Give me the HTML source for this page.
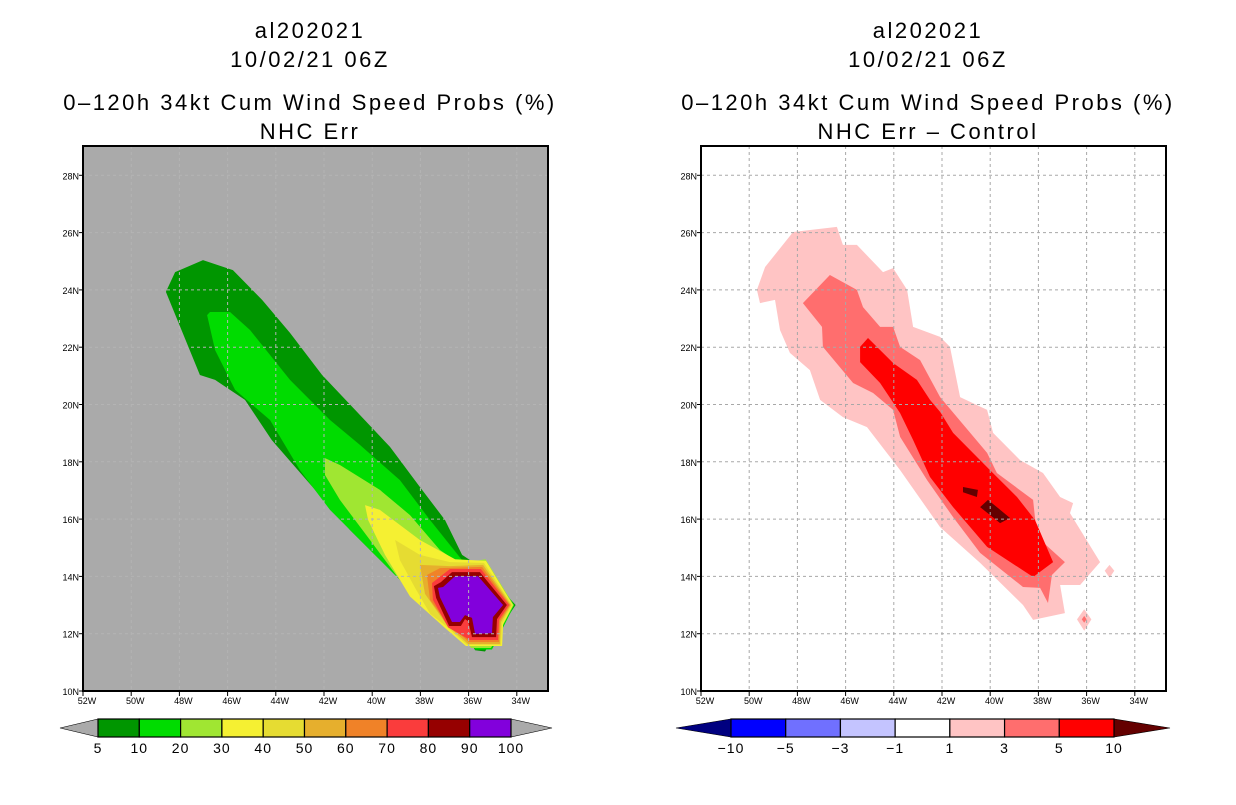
<!DOCTYPE html>
<html><head><meta charset="utf-8">
<style>
html,body{margin:0;padding:0;background:#fff;}
svg text{font-family:"Liberation Sans",sans-serif;fill:#000;}
</style></head>
<body>
<svg id="svg" width="1236" height="800" viewBox="0 0 1236 800" xmlns="http://www.w3.org/2000/svg">
<g font-size="22" letter-spacing="2.5" text-anchor="middle">
<text x="310" y="38">al202021</text>
<text x="310" y="67">10/02/21 06Z</text>
<text x="310" y="110">0–120h 34kt Cum Wind Speed Probs (%)</text>
<text x="310" y="139">NHC Err</text>
</g>
<g font-size="22" letter-spacing="2.5" text-anchor="middle">
<text x="928" y="38">al202021</text>
<text x="928" y="67">10/02/21 06Z</text>
<text x="928" y="110">0–120h 34kt Cum Wind Speed Probs (%)</text>
<text x="928" y="139">NHC Err – Control</text>
</g>
<g id="left"></g>
<g id="right"></g>
<g id="cbl"></g>
<g id="cbr"></g>
</svg>
<script>
// ---- data ----
const lonTicks = [52,50,48,46,44,42,40,38,36,34];
const latTicks = [10,12,14,16,18,20,22,24,26,28];
const leftLevels = [5,10,20,30,40,50,60,70,80,90,100];
const leftColors = ["#009600","#00dc00","#a0e632","#f5f032","#e6dc32","#e6af2d","#f08228","#fa3c3c","#960000","#8200dc"];
const rightLevels = [-10,-5,-3,-1,1,3,5,10];
const rightColors = ["#0000ff","#7070ff","#c4c4ff","#ffffff","#ffc4c4","#ff6e6e","#ff0000"];
const L5=[[48.56,23.93],[48.18,24.62],[47.02,25.04],[45.78,24.69],[44.57,23.65],[43.41,22.5],[42.08,21.03],[40.71,19.81],[39.26,18.52],[38.02,17.12],[36.98,15.97],[36.27,14.75],[35.44,14.29],[34.05,13.0],[35.32,11.38],[35.73,11.42],[36.36,12.41],[37.19,12.65],[38.02,13.18],[39.47,14.4],[40.92,15.62],[42.37,17.02],[44.17,18.76],[45.28,20.16],[46.52,20.86],[47.15,21.03]];
const L10=[[46.73,23.23],[45.9,23.23],[45.07,22.6],[43.41,20.86],[41.75,19.46],[40.51,18.59],[38.85,17.36],[37.6,15.97],[36.27,14.57],[35.11,14.22],[34.1,13.0],[35.03,11.45],[35.73,11.45],[36.15,12.3],[37.19,12.58],[38.43,13.53],[40.09,14.92],[41.75,16.32],[43.0,17.71],[44.24,19.46],[45.69,20.51],[46.52,21.9],[46.85,23.12]];
const L20=[[41.96,18.13],[41.34,17.89],[39.68,17.02],[38.43,16.14],[37.19,14.92],[36.36,14.45],[35.3,14.6],[34.13,13.0],[35.07,11.5],[35.9,11.5],[36.27,12.0],[37.19,12.6],[38.85,13.87],[40.09,15.27],[41.34,16.67],[41.96,17.54]];
const L30=[[40.3,16.49],[39.68,16.32],[38.02,15.27],[36.56,14.6],[35.28,14.54],[34.16,13.0],[34.57,12.34],[34.61,11.57],[36.11,11.57],[36.98,12.2],[38.43,13.3],[39.47,14.75],[40.17,15.97]];
const L40=[[39.05,15.27],[38.02,14.75],[36.77,14.5],[35.36,14.47],[34.2,13.0],[34.61,12.37],[34.66,11.61],[36.07,11.61],[36.94,12.27],[37.6,12.7],[38.22,13.6],[38.85,14.57]];
const L50=[[38.02,14.4],[36.77,14.36],[35.4,14.4],[34.24,13.0],[34.66,12.41],[34.7,11.64],[36.02,11.64],[36.9,12.3],[37.81,13.39]];
const L60=[[37.73,14.05],[37.19,14.29],[35.44,14.33],[34.28,13.0],[34.7,12.44],[34.74,11.71],[35.98,11.71],[36.85,12.32],[37.6,13.18]];
const L70=[[37.52,13.77],[36.77,14.26],[35.49,14.26],[34.32,13.0],[34.74,12.48],[34.78,11.78],[35.94,11.78],[36.85,12.22],[37.48,13.18]];
const L80=[[37.44,13.66],[37.15,13.8],[36.69,14.15],[35.53,14.15],[34.41,13.0],[34.82,12.51],[34.86,11.88],[35.86,11.88],[36.02,12.44],[36.15,12.51],[36.32,12.27],[36.81,12.27],[37.35,13.25]];
const L90=[[37.27,13.6],[37.06,13.63],[36.56,14.01],[35.61,14.01],[34.57,13.0],[34.99,12.58],[35.03,12.02],[35.73,11.99],[35.86,12.55],[36.15,12.65],[36.36,12.41],[36.69,12.41],[37.19,13.28]];
const R1=[[49.68,24.0],[49.34,24.8],[48.18,26.02],[46.36,26.2],[46.11,25.57],[45.53,25.57],[44.45,24.62],[44.03,24.76],[43.45,24.0],[43.2,22.71],[42.08,22.36],[41.67,22.01],[41.25,20.26],[40.13,19.81],[39.88,19.01],[38.76,18.06],[37.81,17.61],[37.1,16.77],[36.56,16.56],[36.69,16.21],[35.44,14.5],[36.27,13.7],[37.1,13.7],[36.9,12.72],[38.22,12.48],[38.64,13.0],[40.42,14.47],[42.08,15.72],[43.74,17.71],[45.11,19.21],[46.11,19.56],[47.06,20.16],[47.48,21.2],[48.31,21.8],[48.72,22.6],[48.93,23.65],[49.55,23.54]];
const R3=[[47.77,23.54],[46.65,24.52],[45.53,24.0],[45.28,23.4],[44.57,22.71],[44.03,22.71],[43.74,22.01],[42.91,21.55],[42.08,20.26],[40.13,18.31],[39.72,17.61],[38.22,16.67],[38.06,15.38],[36.9,14.5],[37.44,14.05],[37.6,13.07],[37.93,13.6],[38.64,13.63],[40.42,14.82],[41.54,16.07],[42.62,17.36],[43.74,18.87],[44.03,19.81],[44.86,20.4],[45.69,20.75],[46.94,22.01],[46.98,22.71]];
const R5=[[45.4,22.01],[45.07,22.32],[44.03,21.45],[43.04,20.86],[42.5,20.16],[42.08,19.74],[41.54,19.01],[40.01,17.71],[38.89,16.77],[38.14,15.97],[37.39,14.5],[38.22,13.98],[40.13,15.03],[41.54,16.42],[42.5,17.47],[43.2,18.76],[43.74,19.7],[44.57,20.75],[45.4,21.48]];
const R10a=[[41.13,17.12],[40.51,17.02],[40.55,16.77],[41.13,16.94]];
const R10b=[[40.09,16.67],[39.72,16.42],[39.18,16.04],[39.59,15.86],[40.42,16.42]];
const Rd1=[[35.05,14.4],[34.85,14.2],[35.05,13.95],[35.25,14.2]];
const Rd2=[[36.1,12.85],[35.8,12.5],[36.1,12.1],[36.4,12.5]];
const Rd2c=[[36.1,12.62],[36.0,12.5],[36.1,12.38],[36.2,12.5]];
const leftFields=[L5,L10,L20,L30,L40,L50,L60,L70,L80,L90];
const rightFields=[[R1,"#ffc4c4"],[Rd1,"#ffc4c4"],[Rd2,"#ffc4c4"],[Rd2c,"#ff6e6e"],[R3,"#ff6e6e"],[R5,"#ff0000"],[R10a,"#640000"],[R10b,"#640000"]];

// ---- axes ----
const NS="http://www.w3.org/2000/svg";
function mk(tag,attrs,parent){const e=document.createElementNS(NS,tag);for(const k in attrs)e.setAttribute(k,attrs[k]);parent.appendChild(e);return e;}
function xs(x0){return lon=>x0+(52-lon)*24.1;}
const ys=lat=>691-(lat-10)*28.65;
function pts(poly,xf){return poly.map(p=>xf(p[0]).toFixed(1)+","+ys(p[1]).toFixed(1)).join(" ");}

function drawMap(g,x0,bg,fields,gridCol,side){
  const xf=xs(x0);
  const r=mk('rect',{x:x0,y:146,width:465,height:545,fill:bg},g);
  
  
  fields.forEach((f,i)=>{
    const p=mk('polygon',{points:pts(f[0],xf),fill:f[1]},g);
    
    
  });
  lonTicks.forEach(lon=>{
    const x=xf(lon);
    if(lon!==52){const l=mk('line',{x1:x,y1:146,x2:x,y2:691,stroke:gridCol,'stroke-width':1,'stroke-dasharray':'3,3'},g);
    
    }
    mk('line',{x1:x,y1:691,x2:x,y2:696,stroke:'#000'},g);
    const t=mk('text',{x:x+4,y:704,'font-size':9,'text-anchor':'middle'},g);t.textContent=lon+'W';
    
    
  });
  latTicks.forEach(lat=>{
    const y=ys(lat);
    if(lat!==10){const l=mk('line',{x1:x0,y1:y,x2:x0+465,y2:y,stroke:gridCol,'stroke-width':1,'stroke-dasharray':'3,3'},g);
    
    }
    mk('line',{x1:x0-4,y1:y,x2:x0,y2:y,stroke:'#000'},g);
    const t=mk('text',{x:x0-4,y:y+4,'font-size':9,'text-anchor':'end'},g);t.textContent=lat+'N';
    
    
  });
  const fr=mk('rect',{x:x0,y:146,width:465,height:545,fill:'none',stroke:'#000','stroke-width':2},g);
  
  
}
drawMap(document.getElementById('left'),83,'#aaaaaa',leftFields.map((f,i)=>[f,leftColors[i]]),'#b4b4b4','left');
drawMap(document.getElementById('right'),701,'#ffffff',rightFields,'#a8a8a8','right');

function drawBar(g,x0,x1,a0,a1,levels,colors,lc,rc,side){
  const n=colors.length,w=(x1-x0)/n,y0=719,y1=737;
  const t1=mk('polygon',{points:`${a0},728 ${x0},${y0} ${x0},${y1}`,fill:lc,stroke:'#000','stroke-width':0.6},g);
  
  
  const t2=mk('polygon',{points:`${a1},728 ${x1},${y0} ${x1},${y1}`,fill:rc,stroke:'#000','stroke-width':0.6},g);
  
  
  colors.forEach((c,i)=>{
    const r=mk('rect',{x:x0+i*w,y:y0,width:w,height:y1-y0,fill:c,stroke:'#000','stroke-width':1.2},g);
    
    
  });
  levels.forEach((v,i)=>{
    const t=mk('text',{x:x0+i*w,y:753,'font-size':14,'letter-spacing':1,'text-anchor':'middle'},g);
    t.textContent=v<0?'−'+(-v):String(v);
    
    
  });
}
drawBar(document.getElementById('cbl'),98,511,60,552,leftLevels,leftColors,'#aaaaaa','#aaaaaa','left');
drawBar(document.getElementById('cbr'),731,1114,676,1170,rightLevels,rightColors,'#000080','#640000','right');
</script>
</body></html>
